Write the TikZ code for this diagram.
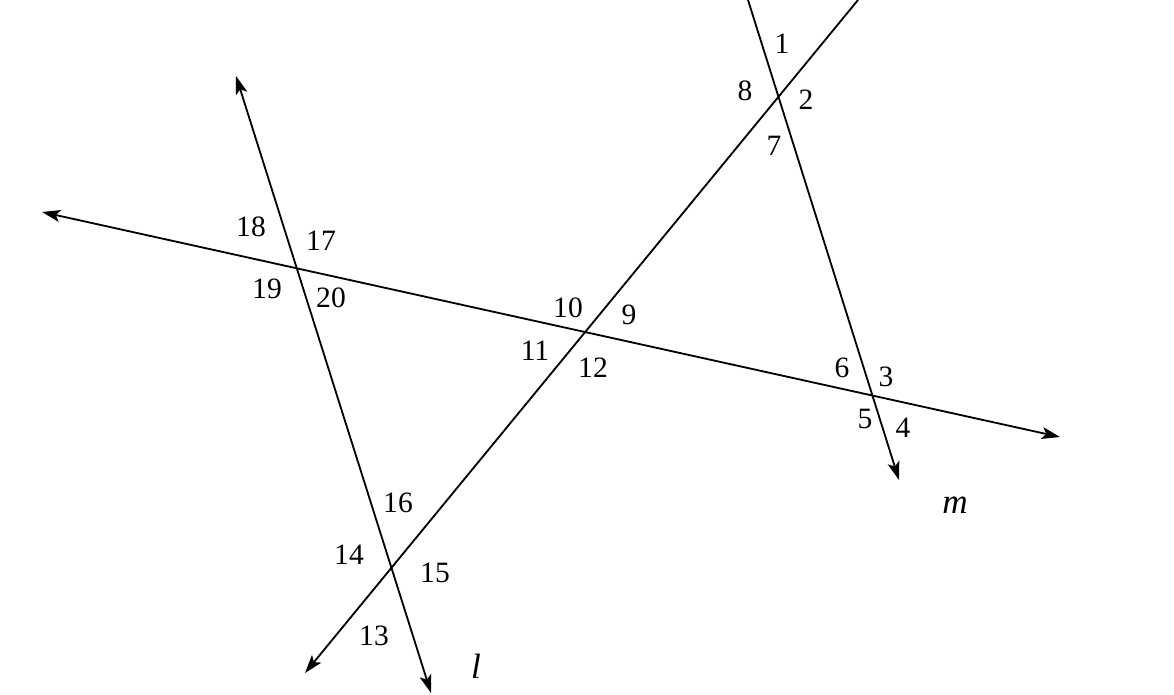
\documentclass[tikz,border=0pt]{standalone}
\usepackage{fontspec}
\setmainfont{Liberation Serif}
\usetikzlibrary{arrows.meta}
\tikzset{
	ray/.style={line width=1.3pt,-{Stealth[length=13pt,width=8.5pt,inset=3pt]}},
	rays/.style={line width=1.3pt,{Stealth[length=13pt,width=8.5pt,inset=3pt]}-{Stealth[length=13pt,width=8.5pt,inset=3pt]}},
	num/.style={font=\fontsize{21}{21}\selectfont,inner sep=0pt},
	linelabel/.style={font=\fontsize{25}{25}\selectfont\itshape,inner sep=0pt}
}
\begin{document}
\begin{tikzpicture}[x=0.025cm,y=-0.025cm]
	\useasboundingbox (0,0) rectangle (1174,695);
	\coordinate (hL) at (42,212);
	\coordinate (hR) at (1060,437);
	\coordinate (lT) at (236,76);
	\coordinate (lB) at (431,693);
	\coordinate (mT) at (748,0);
	\coordinate (mB) at (899,480);
	\coordinate (dT) at (858,0);
	\coordinate (dB) at (305,673);
	\draw[rays] (hL) -- (hR);
	\draw[rays] (lT) -- (lB);
	\draw[ray] (mT) -- (mB);
	\draw[ray] (dT) -- (dB);
	% angles at m and the diagonal
	\node[num] (a1) at (782,44) {1};
	\node[num] (a2) at (806,100) {2};
	\node[num] (a7) at (774,146) {7};
	\node[num] (a8) at (745,91) {8};
	% angles at m and the transversal
	\node[num] (a3) at (886,377) {3};
	\node[num] (a4) at (903,428) {4};
	\node[num] (a5) at (865,419) {5};
	\node[num] (a6) at (842,368) {6};
	% angles at the diagonal and the transversal
	\node[num] (a9) at (629,315) {9};
	\node[num] (a10) at (568,308) {10};
	\node[num] (a11) at (535,351) {11};
	\node[num] (a12) at (593,368) {12};
	% angles at l and the diagonal
	\node[num] (a13) at (374,636) {13};
	\node[num] (a14) at (349,555) {14};
	\node[num] (a15) at (435,573) {15};
	\node[num] (a16) at (398,503) {16};
	% angles at l and the transversal
	\node[num] (a17) at (321,241) {17};
	\node[num] (a18) at (251,227) {18};
	\node[num] (a19) at (267,289) {19};
	\node[num] (a20) at (331,298) {20};
	\node[linelabel] (nl) at (476,666) {l};
	\node[linelabel] (nm) at (955,505) {m};
\end{tikzpicture}
\end{document}
